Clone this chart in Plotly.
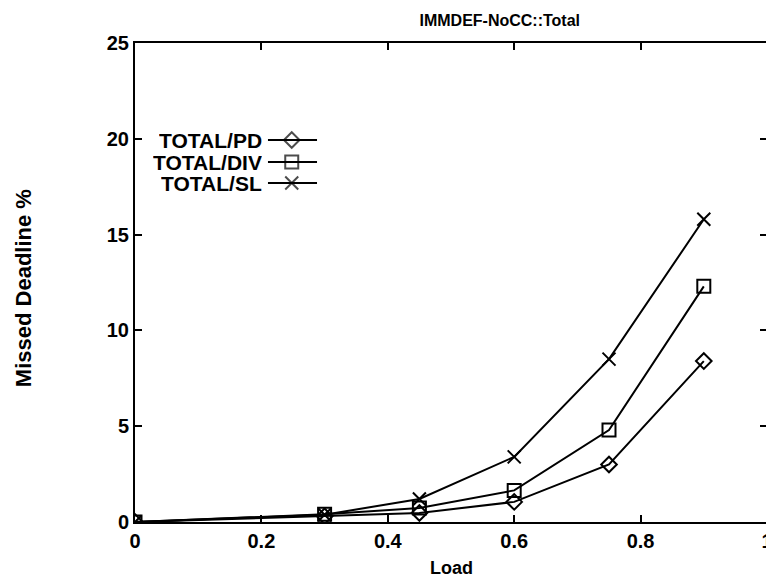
import plotly.graph_objects as go

load = [0, 0.3, 0.45, 0.6, 0.75, 0.9]
pd_vals = [0, 0.3, 0.47, 1.05, 3.0, 8.4]
div_vals = [0, 0.4, 0.73, 1.65, 4.8, 12.3]
sl_vals = [0, 0.38, 1.2, 3.4, 8.5, 15.8]
names = ["TOTAL/PD", "TOTAL/DIV", "TOTAL/SL"]
symbols = ["diamond-open", "square-open", "x-thin-open"]
sizes = [12, 13, 13]
all_vals = [pd_vals, div_vals, sl_vals]

# legend sample layout in plot-domain fractions
legend_rows = [0.7975, 0.7516, 0.7077]
legend_x = [0.2104, 0.248, 0.288]
legend_text_x = 0.2025

font_family = "Liberation Sans, Arial, sans-serif"

def bold(size, family=font_family):
    return dict(family=family, size=size, color="black", weight="bold")

fig = go.Figure()
for name, vals, sym, size in zip(names, all_vals, symbols, sizes):
    fig.add_trace(go.Scatter(
        x=load, y=vals, name=name, mode="lines+markers",
        line=dict(color="black", width=2),
        marker=dict(symbol=sym, size=size, color="black",
                    line=dict(color="black", width=2)),
        showlegend=False,
    ))

# legend samples drawn on an overlay axis with 0..1 range
for name, sym, size, ry in zip(names, symbols, sizes, legend_rows):
    fig.add_trace(go.Scatter(
        x=legend_x, y=[ry] * 3, mode="lines+markers", xaxis="x2", yaxis="y2",
        line=dict(color="black", width=2),
        marker=dict(symbol=sym, size=[0, size, 0], color="black",
                    line=dict(color="black", width=2)),
        showlegend=False, hoverinfo="skip",
    ))
    fig.add_annotation(x=legend_text_x, y=ry, xref="x2", yref="y2", text=name,
                       showarrow=False, xanchor="right", yanchor="middle",
                       height=20, borderpad=0, valign="middle", font=bold(21))

axis_common = dict(
    showline=True, linecolor="black", linewidth=2, mirror="allticks",
    ticks="inside", ticklen=7, tickwidth=2, tickcolor="black",
    showgrid=False, zeroline=False, automargin=False,
    tickfont=bold(20),
)

fig.add_annotation(x=-0.177, y=0.4885, xref="paper", yref="paper", text="Missed Deadline %",
                   textangle=-90, showarrow=False, font=bold(22), xanchor="center", yanchor="middle")
fig.add_annotation(x=0.5, y=-0.096, xref="paper", yref="paper", text="Load",
                   showarrow=False, font=bold(18), xanchor="center", yanchor="middle")

fig.update_layout(
    width=766, height=576,
    margin=dict(l=127, r=7, t=35, b=62),
    paper_bgcolor="white", plot_bgcolor="white",
    title=dict(text="IMMDEF-NoCC::Total", x=0.642, xanchor="center", y=0.978, yanchor="middle",
               font=bold(16)),
    xaxis=dict(range=[0, 1], dtick=0.2, tickformat="~g", **axis_common),
    yaxis=dict(range=[0, 25], dtick=5, **axis_common),
    xaxis2=dict(range=[0, 1], overlaying="x", visible=False, fixedrange=True),
    yaxis2=dict(range=[0, 1], overlaying="y", visible=False, fixedrange=True),
    showlegend=False,
)

fig.write_html("out.html")
